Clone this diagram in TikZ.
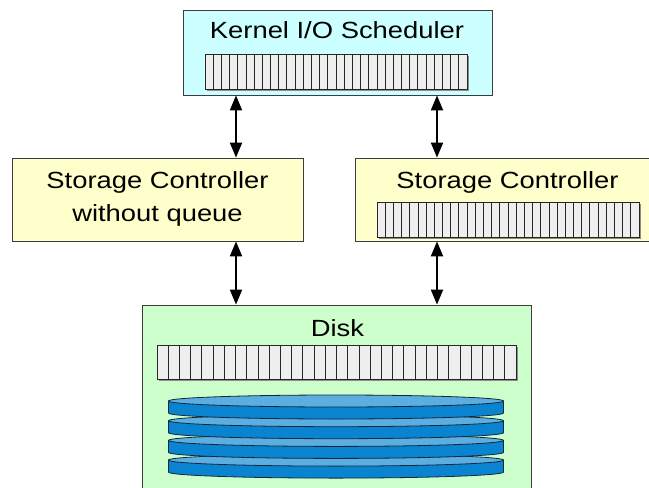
\documentclass[tikz,border=0pt]{standalone}
\usepackage{fontspec}
\usepackage{graphicx}
\setmainfont{Liberation Sans}
\usetikzlibrary{arrows.meta}

\definecolor{kernelfill}{HTML}{CCFFFF}
\definecolor{ctrlfill}{HTML}{FFFFCC}
\definecolor{diskfill}{HTML}{CCFFCC}
\definecolor{cellfill}{HTML}{EEEEEE}
\definecolor{boxline}{HTML}{3C3C3C}
\definecolor{platside}{HTML}{0A84D0}
\definecolor{plattop}{HTML}{5CAEE0}
\definecolor{platline}{HTML}{10283C}

% text is set slightly wide
\newcommand\widetext[1]{\scalebox{1.17}[1]{#1}}

% a queue of 32 slots between (#1,#2) and (#3,#4)
\newcommand\slotqueue[4]{%
  \fill[black!45] ({#1+1.5},{#2+1.5}) rectangle ({#3+1.5},{#4+1.5});
  \draw[fill=cellfill,draw=black!85,line width=0.8pt] (#1,#2) rectangle (#3,#4);
  \foreach \k in {1,...,31}{
    \draw[black!85,line width=0.8pt] ({#1+(#3-#1)*\k/32},#2) -- ({#1+(#3-#1)*\k/32},#4);
  }%
}

% one disk platter: top face centred at (#1,#2)
\newcommand\platter[2]{%
  \draw[fill=platside,draw=platline,line width=0.8pt] ({#1-167.5},#2) -- ({#1-167.5},{#2+12})
    arc[start angle=180,end angle=0,x radius=167.5,y radius=6] -- ({#1+167.5},#2) -- cycle;
  \draw[fill=plattop,draw=platline,line width=0.8pt] (#1,#2) ellipse[x radius=167.5,y radius=6];
}

\tikzset{
  box/.style={draw=boxline,line width=0.8pt,rectangle,inner sep=0pt},
  lbl/.style={anchor=base,inner sep=0pt,font=\fontsize{23.4}{33}\selectfont},
  dbl/.style={line width=2pt,{Triangle[length=15pt,width=12pt]}-{Triangle[length=15pt,width=12pt]}},
}

\begin{document}
\begin{tikzpicture}[x=1pt,y=-1pt]
\useasboundingbox (0,0) rectangle (649,488);
\clip (0,0) rectangle (649,488);

% boxes
\node[box,fill=kernelfill,minimum width=309pt,minimum height=85pt] (kernel) at (337.5,52.5) {};
\node[box,fill=ctrlfill,minimum width=291pt,minimum height=83pt] (ctrlL) at (157.5,199.5) {};
\node[box,fill=ctrlfill,minimum width=305pt,minimum height=83pt] (ctrlR) at (507.5,199.5) {};
\node[box,fill=diskfill,minimum width=389pt,minimum height=195pt] (disk) at (336.5,402.5) {};

% labels
\node[lbl] (tkernel) at (337,38) {\widetext{Kernel I/O Scheduler}};
\node[lbl] (tctrlL1) at (157.5,188) {\widetext{Storage Controller}};
\node[lbl] (tctrlL2) at (157.5,221) {\widetext{without queue}};
\node[lbl] (tctrlR) at (507.5,188) {\widetext{Storage Controller}};
\node[lbl] (tdisk) at (337.5,336) {\widetext{Disk}};

% queues
\slotqueue{205}{54}{467}{89}
\slotqueue{377}{202}{639}{237}
\slotqueue{157}{345}{516}{379}

% platter stack, drawn from the bottom up
\foreach \i in {3,2,1,0}{
  \platter{336}{401+19.7*\i}
}

% connectors
\coordinate (colL) at (236,0);
\coordinate (colR) at (437,0);
\draw[dbl] (colL |- kernel.south) -- (colL |- ctrlL.north);
\draw[dbl] (colR |- kernel.south) -- (colR |- ctrlR.north);
\draw[dbl] (colL |- ctrlL.south) -- (colL |- disk.north);
\draw[dbl] (colR |- ctrlR.south) -- (colR |- disk.north);
\end{tikzpicture}
\end{document}
